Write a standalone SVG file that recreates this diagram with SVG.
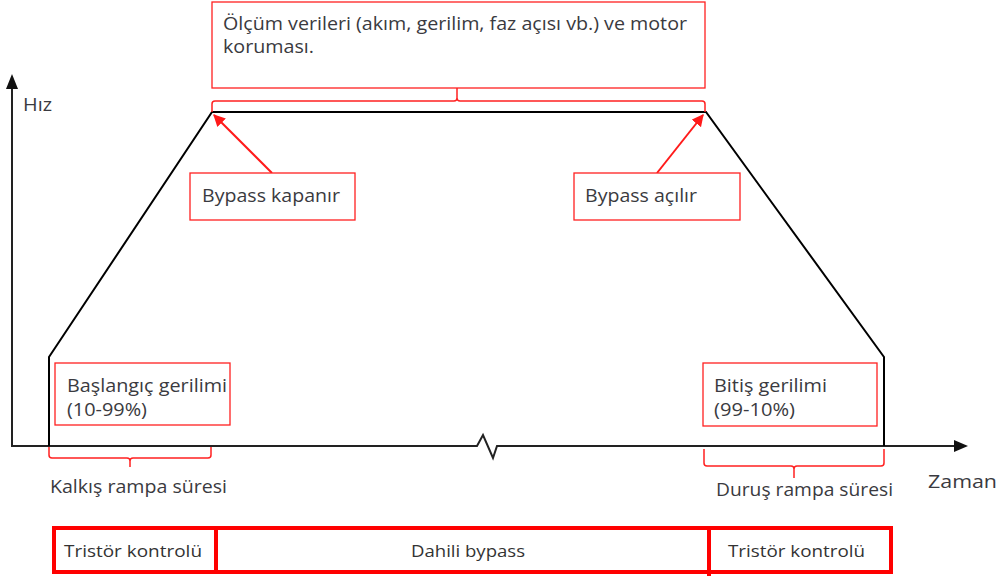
<svg xmlns="http://www.w3.org/2000/svg" width="1002" height="576" viewBox="0 0 1002 576">
  <style>
    .lbl { font-family: "Open Sans", "Liberation Sans", sans-serif; font-size: 18.5px; fill: #3a3a40; }
    .tbl { font-family: "Open Sans", "Liberation Sans", sans-serif; font-size: 16px; fill: #333; }
    .box { fill: #fff; stroke: #ff2020; stroke-width: 1.3; }
    .brk { fill: none; stroke: #ff2020; stroke-width: 1.5; }
    .axis { fill: none; stroke: #222; stroke-width: 2; }
    .curve { fill: none; stroke: #000; stroke-width: 2; }
    .ptr { fill: none; stroke: #ff1a1a; stroke-width: 2; marker-end: url(#redHead); }
    .cell { fill: none; stroke: #ff0000; stroke-width: 4; }
  </style>
  <defs>
    <marker id="redHead" viewBox="0 0 10 10" refX="9" refY="5" markerWidth="6" markerHeight="6" orient="auto" markerUnits="strokeWidth">
      <path d="M0,0 L10,5 L0,10 z" fill="#ff1a1a"/>
    </marker>
  </defs>
  <rect width="1002" height="576" fill="#fff"/>

  <!-- axes -->
  <g id="axes">
    <path class="axis" d="M12,88 V446 H477 L483,435 L493,458 L497,446 H956"/>
    <path d="M12,74 L6,89 L18,89 z" fill="#111"/>
    <path d="M968,446 L954,440 L954,452 z" fill="#111"/>
    <text class="lbl" x="23" y="111" textLength="29" lengthAdjust="spacingAndGlyphs">Hız</text>
    <text class="lbl" x="928" y="488" textLength="69" lengthAdjust="spacingAndGlyphs">Zaman</text>
  </g>

  <!-- speed profile -->
  <g id="profile">
    <path class="curve" d="M49,446 V357 L212,112 H706 L884,357 V446"/>
  </g>

  <!-- connectors -->
  <g id="connectors">
    <line class="ptr" x1="272" y1="173" x2="214" y2="115"/>
    <line class="ptr" x1="657" y1="173" x2="703" y2="115"/>
    <path class="brk" d="M212,112 V104 Q212,101 215,101 H454 Q457,101 457,98 V88 M457,98 Q457,101 460,101 H702 Q705,101 705,104 V112"/>
    <path class="brk" d="M49,447 V455 Q49,458 52,458 H127 Q130,458 130,461 V467 M130,461 Q130,458 133,458 H208 Q211,458 211,455 V447"/>
    <path class="brk" d="M704,449 V463 Q704,466 707,466 H791 Q794,466 794,469 V478 M794,469 Q794,466 797,466 H881 Q884,466 884,463 V449"/>
  </g>

  <g id="measurement">
    <rect class="box" x="212" y="2" width="493" height="86"/>
    <text class="lbl" x="223" y="30" textLength="464" lengthAdjust="spacingAndGlyphs">Ölçüm verileri (akım, gerilim, faz açısı vb.) ve motor</text>
    <text class="lbl" x="223" y="53" textLength="91" lengthAdjust="spacingAndGlyphs">koruması.</text>
  </g>

  <g id="bypass-close">
    <rect class="box" x="190" y="173" width="165" height="47"/>
    <text class="lbl" x="202" y="202" textLength="138" lengthAdjust="spacingAndGlyphs">Bypass kapanır</text>
  </g>

  <g id="bypass-open">
    <rect class="box" x="574" y="173" width="166" height="47"/>
    <text class="lbl" x="585" y="202" textLength="112" lengthAdjust="spacingAndGlyphs">Bypass açılır</text>
  </g>

  <g id="start-voltage">
    <rect class="box" x="55" y="363" width="175" height="62"/>
    <text class="lbl" x="67" y="392" textLength="160" lengthAdjust="spacingAndGlyphs">Başlangıç gerilimi</text>
    <text class="lbl" x="67" y="416" textLength="80" lengthAdjust="spacingAndGlyphs">(10-99%)</text>
  </g>

  <g id="end-voltage">
    <rect class="box" x="703" y="363" width="174" height="63"/>
    <text class="lbl" x="714" y="392" textLength="113" lengthAdjust="spacingAndGlyphs">Bitiş gerilimi</text>
    <text class="lbl" x="714" y="416" textLength="81" lengthAdjust="spacingAndGlyphs">(99-10%)</text>
  </g>

  <g id="ramp-up">
    <text class="lbl" x="50" y="493" textLength="177" lengthAdjust="spacingAndGlyphs">Kalkış rampa süresi</text>
  </g>

  <g id="ramp-down">
    <text class="lbl" x="716" y="496" textLength="177" lengthAdjust="spacingAndGlyphs">Duruş rampa süresi</text>
  </g>

  <!-- control mode bar -->
  <g id="mode-bar">
    <rect class="cell" x="54" y="528" width="837" height="44"/>
    <line class="cell" x1="216" y1="528" x2="216" y2="572"/>
    <line class="cell" x1="709" y1="528" x2="709" y2="576"/>
    <text class="tbl" x="64" y="557" textLength="138" lengthAdjust="spacingAndGlyphs">Tristör kontrolü</text>
    <text class="tbl" x="411" y="557" textLength="114" lengthAdjust="spacingAndGlyphs">Dahili bypass</text>
    <text class="tbl" x="728" y="557" textLength="137" lengthAdjust="spacingAndGlyphs">Tristör kontrolü</text>
  </g>
</svg>
